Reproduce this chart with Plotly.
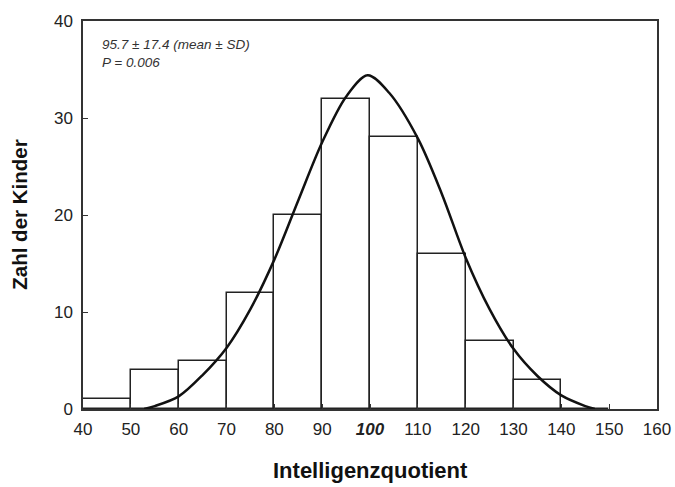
import plotly.graph_objects as go

bin_left = [40, 50, 60, 70, 80, 90, 100, 110, 120, 130, 140]
counts = [1, 4, 5, 12, 20, 32, 28, 16, 7, 3, 0]
bin_width = 10

curve_x = [52.8, 55, 60, 65, 70, 75, 80, 85, 90, 95, 99.5, 104, 110, 115, 120, 125, 130, 135, 140, 145, 147]
curve_y = [0, 0.3, 1.3, 3.5, 6.3, 10.3, 15.4, 21.5, 27.5, 32.2, 34.4, 32.6, 27.9, 22.2, 15.6, 10.3, 6.2, 3.4, 1.4, 0.3, 0]

x_ticks = [40, 50, 60, 70, 80, 90, 100, 110, 120, 130, 140, 150, 160]
x_ticktext = ["40", "50", "60", "70", "80", "90", "<b><i>100</i></b>", "110", "120", "130", "140", "150", "160"]
y_ticks = [0, 10, 20, 30, 40]

annot_lines = ["95.7 ± 17.4 (mean ± SD)", "P = 0.006"]
x_title = "Intelligenzquotient"
y_title = "Zahl der Kinder"

FONT = "Liberation Sans, Arial, sans-serif"

fig = go.Figure()
fig.add_trace(go.Bar(
    x=[b + bin_width / 2 for b in bin_left], y=counts, width=bin_width,
    marker=dict(color="white", line=dict(color="#222", width=1.5)),
    showlegend=False, hoverinfo="skip"))
fig.add_trace(go.Scatter(
    x=curve_x, y=curve_y, mode="lines",
    line=dict(color="#111", width=2.5, shape="spline", smoothing=0.9),
    showlegend=False))

fig.add_annotation(
    x=0.03, y=0.965, xref="paper", yref="paper", xanchor="left", yanchor="top",
    align="left", showarrow=False,
    text="<i>" + "<br>".join(annot_lines) + "</i>",
    font=dict(family=FONT, size=13.5, color="#333"))

fig.add_annotation(
    x=0.5, y=-0.12, xref="paper", yref="paper", xanchor="center", yanchor="top",
    showarrow=False, text="<b>" + x_title + "</b>",
    font=dict(family=FONT, size=22, color="#111"))
fig.add_annotation(
    x=-0.112, y=0.5, xref="paper", yref="paper", xanchor="center", yanchor="middle",
    textangle=-90, showarrow=False, text="<b>" + y_title + "</b>",
    font=dict(family=FONT, size=20.5, color="#111"))

axis_font = dict(family=FONT, size=17, color="#222")
fig.update_layout(
    width=675, height=487,
    margin=dict(l=83, r=18, t=21, b=78, autoexpand=False),
    plot_bgcolor="white", paper_bgcolor="white",
    bargap=0,
    xaxis=dict(range=[40, 160], tickvals=x_ticks, ticktext=x_ticktext,
               ticks="inside", ticklen=5, tickcolor="#333",
               showline=True, mirror=True, linecolor="#333", linewidth=1.5,
               showgrid=False, zeroline=False, tickfont=axis_font,
               ticklabelstandoff=4, automargin=False),
    yaxis=dict(range=[0, 40], tickvals=y_ticks,
               ticks="inside", ticklen=5, tickcolor="#333",
               showline=True, mirror=True, linecolor="#333", linewidth=1.5,
               showgrid=False, zeroline=False, tickfont=axis_font,
               ticklabelstandoff=5, automargin=False),
)

fig.write_html("out.html")
